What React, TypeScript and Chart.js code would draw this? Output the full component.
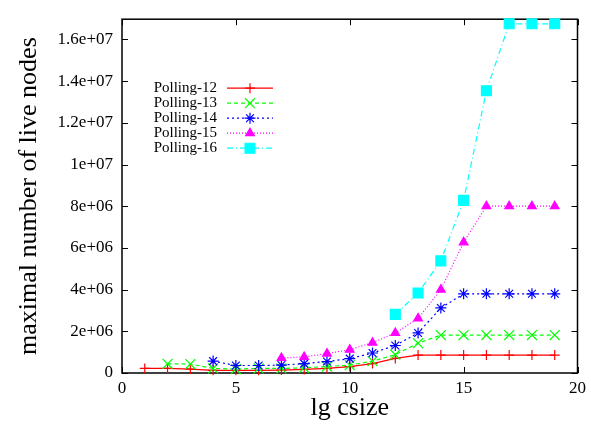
import { useEffect, useRef } from 'react';
import { Chart, registerables } from 'chart.js';
import { drawPoint } from 'chart.js/helpers';

Chart.register(...registerables);

// lg csize values shared by all series (x axis)
const lgCsize = [1, 2, 3, 4, 5, 6, 7, 8, 9, 10, 11, 12, 13, 14, 15, 16, 17, 18, 19];

// maximal number of live nodes per polling depth (null = not measured)
const polling12 = [0.22e6, 0.22e6, 0.19e6, 0.13e6, 0.13e6, 0.13e6, 0.14e6, 0.17e6, 0.22e6, 0.31e6, 0.45e6, 0.70e6, 0.86e6, 0.86e6, 0.86e6, 0.86e6, 0.86e6, 0.86e6, 0.86e6];
const polling13 = [null, 0.44e6, 0.43e6, 0.22e6, 0.19e6, 0.22e6, 0.22e6, 0.25e6, 0.31e6, 0.38e6, 0.57e6, 0.88e6, 1.43e6, 1.82e6, 1.82e6, 1.82e6, 1.82e6, 1.82e6, 1.82e6];
const polling14 = [null, null, null, 0.57e6, 0.36e6, 0.36e6, 0.38e6, 0.45e6, 0.55e6, 0.69e6, 0.96e6, 1.32e6, 1.92e6, 3.12e6, 3.8e6, 3.8e6, 3.8e6, 3.8e6, 3.8e6];
const polling15 = [null, null, null, null, null, null, 0.72e6, 0.77e6, 0.93e6, 1.12e6, 1.45e6, 1.92e6, 2.62e6, 4.0e6, 6.27e6, 8.0e6, 8.0e6, 8.0e6, 8.0e6];
const polling16 = [null, null, null, null, null, null, null, null, null, null, null, 2.81e6, 3.84e6, 5.38e6, 8.28e6, 13.54e6, 16.75e6, 16.75e6, 16.75e6];

const seriesLabels = ['Polling-12', 'Polling-13', 'Polling-14', 'Polling-15', 'Polling-16'];
const seriesValues = [polling12, polling13, polling14, polling15, polling16];

// axis ticks
const xTickValues = [0, 5, 10, 15, 20];
const yTickValues = [0, 2e6, 4e6, 6e6, 8e6, 1e7, 1.2e7, 1.4e7, 1.6e7];
const yTickLabels = ['0', '2e+06', '4e+06', '6e+06', '8e+06', '1e+07', '1.2e+07', '1.4e+07', '1.6e+07'];

const FONT = '"Liberation Serif", "Times New Roman", serif';

const styles = [
  { color: '#ff0000', dash: [], point: 'cross', radius: 5 },
  { color: '#00ff00', dash: [4, 3], point: 'crossRot', radius: 7 },
  { color: '#0000ff', dash: [2, 3], point: 'star', radius: 5.5 },
  { color: '#ff00ff', dash: [1, 2], point: 'triangle', radius: 5 },
  { color: '#00ffff', dash: [6, 3, 1, 3], point: 'rect', radius: 7 },
];

// border box with inward tick marks on all four sides
const framePlugin = {
  id: 'frame',
  beforeDatasetsDraw(chart: any) {
    const { ctx, chartArea, scales } = chart;
    const { left, right, top, bottom } = chartArea;
    const tick = 6;
    ctx.save();
    ctx.strokeStyle = '#000';
    ctx.lineWidth = 1;
    ctx.beginPath();
    for (const t of scales.y.ticks) {
      const py = Math.round(scales.y.getPixelForValue(t.value)) + 0.5;
      ctx.moveTo(left, py); ctx.lineTo(left + tick, py);
      ctx.moveTo(right, py); ctx.lineTo(right - tick, py);
    }
    for (const t of scales.x.ticks) {
      const px = Math.round(scales.x.getPixelForValue(t.value)) + 0.5;
      ctx.moveTo(px, bottom); ctx.lineTo(px, bottom - tick);
      ctx.moveTo(px, top); ctx.lineTo(px, top + tick);
    }
    ctx.stroke();
    ctx.lineWidth = 1.5;
    ctx.strokeRect(left, top, right - left, bottom - top);
    ctx.restore();
  },
};

// key in the upper left: label right-aligned, then a line sample with its marker
const keyPlugin = {
  id: 'key',
  afterDatasetsDraw(chart: any) {
    const { ctx, chartArea } = chart;
    const textRight = chartArea.left + 95;
    const lineStart = chartArea.left + 105;
    const lineEnd = chartArea.left + 151;
    chart.data.datasets.forEach((ds: any, i: number) => {
      const yRow = chartArea.top + 69 + i * 15;
      ctx.save();
      ctx.font = `15px ${FONT}`;
      ctx.fillStyle = '#000';
      ctx.textAlign = 'right';
      ctx.textBaseline = 'middle';
      ctx.fillText(ds.label, textRight, yRow);
      ctx.strokeStyle = ds.borderColor;
      ctx.lineWidth = ds.borderWidth;
      ctx.setLineDash(ds.borderDash || []);
      ctx.beginPath();
      ctx.moveTo(lineStart, yRow);
      ctx.lineTo(lineEnd, yRow);
      ctx.stroke();
      ctx.setLineDash([]);
      ctx.fillStyle = ds.pointBackgroundColor;
      ctx.strokeStyle = ds.pointBorderColor;
      ctx.lineWidth = ds.pointBorderWidth;
      drawPoint(
        ctx,
        { pointStyle: ds.pointStyle, radius: ds.pointRadius, rotation: 0, borderWidth: ds.pointBorderWidth },
        (lineStart + lineEnd) / 2,
        yRow
      );
      ctx.restore();
    });
  },
};

export default function App() {
  const canvasRef = useRef<HTMLCanvasElement | null>(null);

  useEffect(() => {
    const canvas = canvasRef.current;
    if (!canvas) return;

    const datasets = seriesValues.map((vals, i) => ({
      label: seriesLabels[i],
      data: lgCsize
        .map((x, k) => ({ x, y: vals[k] }))
        .filter((p) => p.y !== null),
      borderColor: styles[i].color,
      backgroundColor: styles[i].color,
      borderWidth: 1.2,
      borderDash: styles[i].dash,
      pointStyle: styles[i].point,
      pointRadius: styles[i].radius,
      pointHoverRadius: styles[i].radius,
      pointBorderWidth: 1.2,
      pointBackgroundColor: styles[i].color,
      pointBorderColor: styles[i].color,
      tension: 0,
      fill: false,
      clip: false as any,
      order: seriesLabels.length - i,
    }));

    const chart = new Chart(canvas, {
      type: 'line',
      data: { datasets: datasets as any },
      options: {
        responsive: false,
        animation: false,
        devicePixelRatio: 1,
        events: [],
        layout: { padding: { left: 0, right: 12, top: 13, bottom: 0 } },
        plugins: {
          legend: { display: false },
          tooltip: { enabled: false },
        },
        scales: {
          x: {
            type: 'linear',
            min: 0,
            max: 20,
            afterBuildTicks: (s: any) => {
              s.ticks = xTickValues.map((v) => ({ value: v }));
            },
            afterFit: (s: any) => {
              s.height = 51;
            },
            grid: { display: false, drawTicks: false },
            border: { display: false },
            ticks: {
              padding: 5,
              color: '#000',
              font: { family: FONT, size: 17 },
              maxRotation: 0,
              callback: (v: any) => String(v),
            },
            title: {
              display: true,
              text: 'lg csize',
              color: '#000',
              font: { family: FONT, size: 26 },
              padding: { top: 0, bottom: 0 },
            },
          },
          y: {
            type: 'linear',
            min: 0,
            max: 1.697e7,
            afterBuildTicks: (s: any) => {
              s.ticks = yTickValues.map((v) => ({ value: v }));
            },
            afterFit: (s: any) => {
              s.width = 122;
            },
            grid: { display: false, drawTicks: false },
            border: { display: false },
            ticks: {
              padding: 9,
              color: '#000',
              font: { family: FONT, size: 17 },
              callback: (v: any) => {
                const k = yTickValues.indexOf(Number(v));
                return k >= 0 ? yTickLabels[k] : '';
              },
            },
            title: {
              display: true,
              text: 'maximal number of live nodes',
              color: '#000',
              font: { family: FONT, size: 26 },
              padding: { top: 13.5, bottom: 0 },
            },
          },
        },
      },
      plugins: [framePlugin, keyPlugin],
    });

    return () => chart.destroy();
  }, []);

  return (
    <div style={{ position: 'absolute', left: 0, top: 0, width: 591, height: 424, background: '#fff' }}>
      <canvas ref={canvasRef} width={591} height={424} style={{ display: 'block' }} />
    </div>
  );
}
